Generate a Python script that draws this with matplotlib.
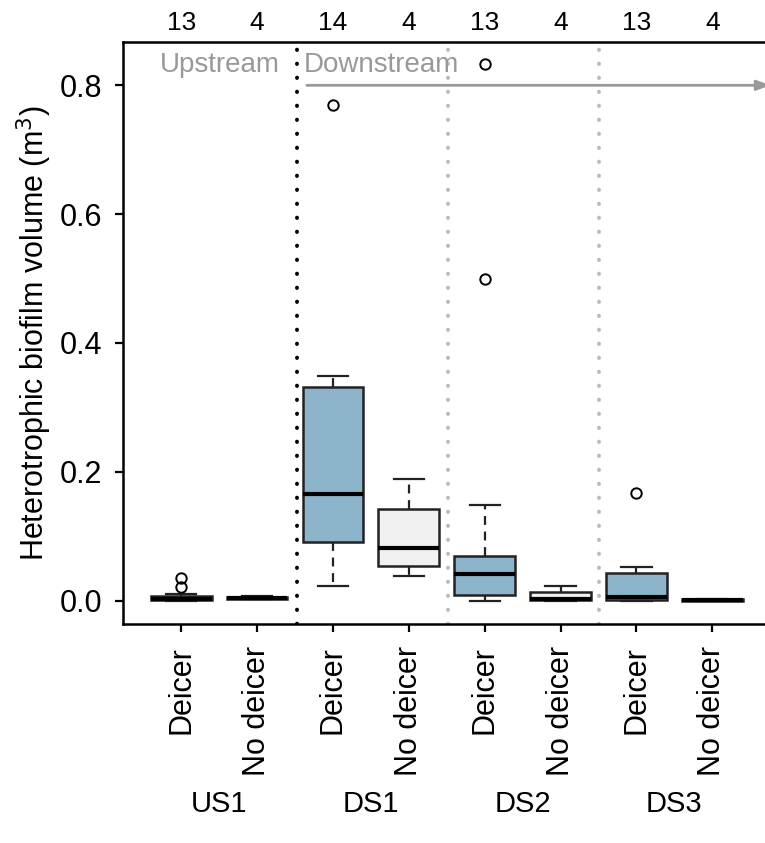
import matplotlib
matplotlib.use("Agg")
import matplotlib.pyplot as plt

plt.rcParams['font.family'] = ['Liberation Sans', 'DejaVu Sans']

# summary statistics per site x treatment
labels = ['Deicer', 'No deicer'] * 4
sites = ['US1', 'DS1', 'DS2', 'DS3']
counts = [13, 4, 14, 4, 13, 4, 13, 4]
whislo = [0.000, 0.002, 0.022, 0.038, 0.000, 0.000, 0.000, 0.000]
q1 = [0.001, 0.002, 0.091, 0.053, 0.009, 0.001, 0.001, 0.000]
med = [0.003, 0.004, 0.166, 0.081, 0.042, 0.003, 0.005, 0.001]
q3 = [0.007, 0.006, 0.332, 0.143, 0.069, 0.013, 0.043, 0.002]
whishi = [0.010, 0.007, 0.349, 0.189, 0.149, 0.022, 0.052, 0.003]
fliers = [[0.021, 0.035], [], [0.770], [], [0.500, 0.833], [], [0.167], []]

colors = ['#8cb4cb', '#f0f0f0'] * 4

stats = []
for i in range(8):
    stats.append(dict(whislo=whislo[i], q1=q1[i], med=med[i], q3=q3[i],
                      whishi=whishi[i], fliers=fliers[i]))

fig = plt.figure(figsize=(7.65, 8.43), dpi=100)
ax = fig.add_axes([0.161, 0.26, 0.846, 0.69])

pos = list(range(1, 9))
bp = ax.bxp(stats, positions=pos, widths=0.8, patch_artist=True,
            boxprops=dict(linewidth=1.8, edgecolor='#222222'),
            medianprops=dict(color='black', linewidth=3),
            whiskerprops=dict(linestyle=(0, (4, 3)), linewidth=1.6, color='#222222'),
            capprops=dict(linewidth=1.6, color='#222222'),
            flierprops=dict(marker='o', markerfacecolor='none',
                            markeredgecolor='black', markersize=7.5,
                            markeredgewidth=1.4),
            capwidths=0.4)
for b, c in zip(bp['boxes'], colors):
    b.set_facecolor(c)

# site dividers
ax.axvline(2.53, color='black', linestyle=(0, (0.1, 3.5)), linewidth=2.8,
           dash_capstyle='round')
for xv in [4.52, 6.5]:
    ax.axvline(xv, color='#bbbbbb', linestyle=(0, (0.1, 3.5)), linewidth=2.8,
               dash_capstyle='round')

ax.set_xlim(0.235, 8.765)
ax.set_ylim(-0.036, 0.867)
ax.set_yticks([0.0, 0.2, 0.4, 0.6, 0.8])
ax.set_yticklabels(['0.0', '0.2', '0.4', '0.6', '0.8'])
ax.set_xticks(pos)
ax.set_xticklabels(labels, rotation=90, fontsize=22)
ax.tick_params(axis='both', labelsize=22, width=1.6, length=6)
ax.tick_params(axis='x', pad=10)
ax.tick_params(axis='y', pad=9)
for s in ax.spines.values():
    s.set_linewidth(1.8)

ax.set_ylabel('Heterotrophic biofilm volume (m$^3$)', fontsize=22, labelpad=4)

# sample sizes above the panel
for p, n in zip(pos, counts):
    ax.text(p, 1.012, str(n), transform=ax.get_xaxis_transform(),
            ha='center', va='bottom', fontsize=19)

# site names under the tick labels
for k, s in enumerate(sites):
    ax.text(2 * k + 1.5, -0.31, s, transform=ax.get_xaxis_transform(),
            ha='center', va='center', fontsize=21)

ax.text(0.72, 0.832, 'Upstream', color='#999999', fontsize=20,
        ha='left', va='center')
ax.text(2.62, 0.832, 'Downstream', color='#999999', fontsize=20,
        ha='left', va='center')
ax.annotate('', xy=(8.8, 0.8), xytext=(2.62, 0.8),
            arrowprops=dict(arrowstyle='-|>,head_length=0.8,head_width=0.3',
                            color='#999999', lw=2), annotation_clip=False)

fig.savefig('out.png', dpi=100)
